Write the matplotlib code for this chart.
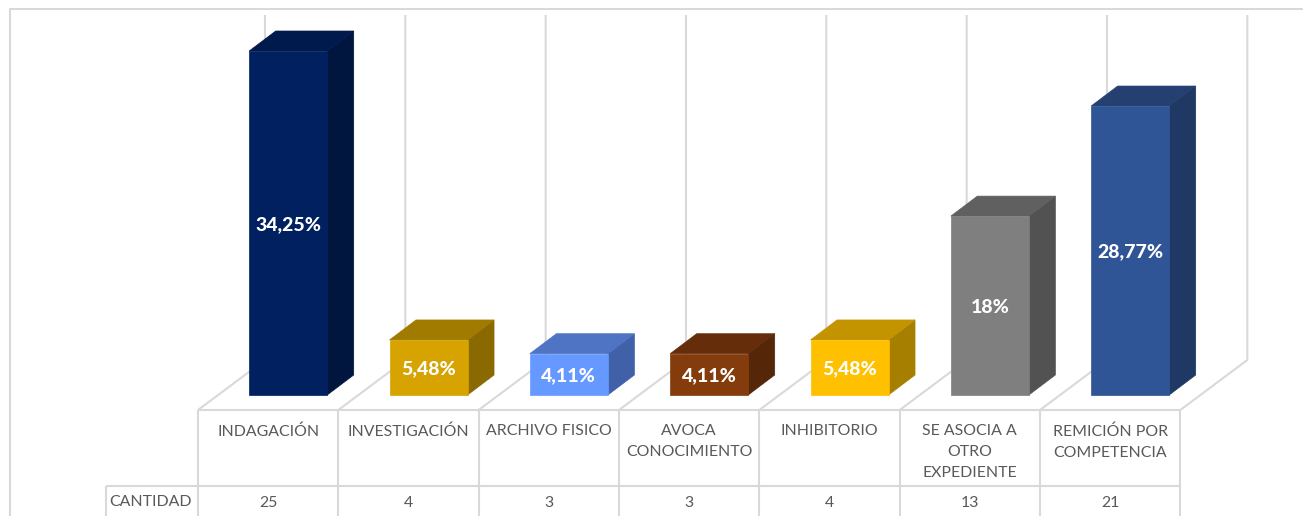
import matplotlib
matplotlib.use('Agg')
import matplotlib.pyplot as plt
from matplotlib.patches import Polygon

plt.rcParams['font.family'] = ['Lato', 'DejaVu Sans']

categories = ['INDAGACIÓN', 'INVESTIGACIÓN', 'ARCHIVO FISICO', 'AVOCA\nCONOCIMIENTO',
              'INHIBITORIO', 'SE ASOCIA A\nOTRO\nEXPEDIENTE', 'REMICIÓN POR\nCOMPETENCIA']
cantidad = [25, 4, 3, 3, 4, 13, 21]
labels = ['34,25%', '5,48%', '4,11%', '4,11%', '5,48%', '18%', '28,77%']
front_colors = ['#002060', '#d6a300', '#6699ff', '#843c0c', '#ffc000', '#7f7f7f', '#2f5597']
top_colors = ['#001a4e', '#a17b00', '#4f74c4', '#652d09', '#c49300', '#606060', '#253f70']
side_colors = ['#00163f', '#8a6900', '#4060a8', '#552608', '#a67f00', '#525252', '#1f3864']

W, H = 1303, 516
GRID = '#d9d9d9'
TEXT = '#595959'
LW = 1.5

# pixel geometry of the fake 3d chart
COL = 140.33
X0 = 288.2      # centre of first bar front
Y0 = 395.0      # bar base
PX_PER_UNIT = 13.76
TABLE_LEFT = 198.0
ROW1, ROW2 = 410, 486

fig = plt.figure(figsize=(W / 100, H / 100), dpi=100)

# frame, floor, back walls and table in pixel coordinates
frame = fig.add_axes([0, 0, 1, 1])
frame.set_xlim(0, W)
frame.set_ylim(H, 0)
frame.axis('off')


def line(xs, ys):
    frame.plot(xs, ys, color=GRID, lw=LW, solid_capstyle='butt', clip_on=True)


line([10, 10, W], [H, 9, 9])

edges = [TABLE_LEFT + COL * i for i in range(len(categories) + 1)]
for e in edges:
    line([e, e], [ROW1, H])
    line([e, e + 67, e + 67], [ROW1, 360, 15])
line([edges[0], edges[-1]], [ROW1, ROW1])
line([106, edges[-1]], [ROW2, ROW2])
line([106, 106], [ROW2, H])

# bars in data coordinates
ax = fig.add_axes([0, 0, 1, 1], facecolor='none')
ax.set_xlim(-X0 / COL, (W - X0) / COL)
ax.set_ylim(-(H - Y0) / PX_PER_UNIT, Y0 / PX_PER_UNIT)
ax.axis('off')

half = 39.0 / COL
dx = 26.5 / COL
dy = 20 / PX_PER_UNIT

for i, v in enumerate(cantidad):
    ax.add_patch(Polygon([(i + half, 0), (i + half + dx, dy), (i + half + dx, v + dy), (i + half, v)],
                         closed=True, fc=side_colors[i], ec=side_colors[i], lw=0.5, zorder=3))
    ax.add_patch(Polygon([(i - half, v), (i - half + dx, v + dy), (i + half + dx, v + dy), (i + half, v)],
                         closed=True, fc=top_colors[i], ec=top_colors[i], lw=0.5, zorder=3))
    ax.bar(i, v, width=2 * half, color=front_colors[i], edgecolor=front_colors[i], linewidth=0.5, zorder=3.5)
    ax.text(i, v / 2 - 0.12, labels[i], color='white', fontsize=14, fontweight='black',
            ha='center', va='center', zorder=4)

# table text
for i, name in enumerate(categories):
    cx = (edges[i] + edges[i + 1]) / 2
    frame.text(cx, 424, name, color=TEXT, fontsize=11.4, ha='center', va='top', linespacing=1.64)
    frame.text(cx, 503, str(cantidad[i]), color=TEXT, fontsize=11.4, ha='center', va='center')
frame.text(150.5, 502, 'CANTIDAD', color=TEXT, fontsize=11.4, ha='center', va='center')

fig.savefig('out.png', dpi=100)
